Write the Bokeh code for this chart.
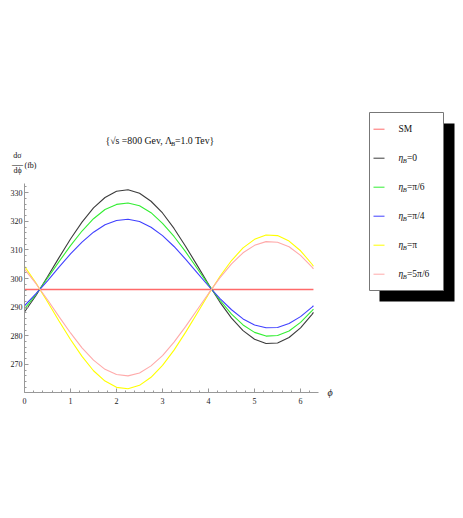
from bokeh.plotting import figure
from bokeh.models import Range1d, SingleIntervalTicker
from bokeh.embed import file_html
from bokeh.resources import INLINE
from bokeh.core.properties import value

# ---- data ----
phi = [0.0, 0.25, 0.5, 0.75, 1.0, 1.25, 1.5, 1.75, 2.0, 2.25, 2.5, 2.75, 3.0,
       3.25, 3.5, 3.75, 4.0, 4.25, 4.5, 4.75, 5.0, 5.25, 5.5, 5.75, 6.0, 6.25, 6.28]
sm_phi = [0.0, 6.28]
sm = [296.2, 296.2]
eta_0 = [288.3, 294.1, 300.6, 307.3, 313.8, 319.7, 324.7, 328.3, 330.5, 331.0, 329.8, 327.0, 322.9,
         317.5, 311.3, 304.7, 298.0, 291.7, 286.2, 281.8, 278.8, 277.3, 277.5, 279.4, 282.8, 287.5, 288.2]
eta_pi6 = [289.4, 294.5, 300.1, 305.9, 311.5, 316.6, 320.9, 324.1, 325.9, 326.4, 325.4, 323.0, 319.3,
           314.7, 309.4, 303.6, 297.8, 292.4, 287.6, 283.8, 281.2, 279.9, 280.1, 281.7, 284.7, 288.8, 289.3]
eta_pi4 = [290.5, 294.7, 299.2, 304.0, 308.6, 312.7, 316.2, 318.8, 320.3, 320.7, 319.9, 317.9, 315.0,
           311.2, 306.8, 302.1, 297.4, 293.0, 289.1, 285.9, 283.8, 282.8, 282.9, 284.3, 286.7, 290.0, 290.5]
eta_pi = [304.3, 298.4, 291.9, 285.2, 278.7, 272.8, 267.8, 264.2, 262.0, 261.5, 262.7, 265.5, 269.7,
          275.0, 281.2, 287.8, 294.5, 300.8, 306.3, 310.7, 313.7, 315.2, 315.0, 313.1, 309.7, 305.0, 304.3]
eta_5pi6 = [303.3, 298.2, 292.6, 286.7, 281.0, 275.8, 271.5, 268.3, 266.5, 266.0, 267.0, 269.5, 273.1,
            277.8, 283.2, 289.0, 294.8, 300.3, 305.1, 309.0, 311.6, 312.9, 312.7, 311.1, 308.1, 304.0, 303.4]

legend_suffix = ["", "=0", "=\u03c0/6", "=\u03c0/4", "=\u03c0", "=5\u03c0/6"]
colors = ["#ff6a6a", "#3c3c3c", "#33ee33", "#4040ff", "#ffff00", "#ffaaaa"]
x_axis_bounds = (0.0, 6.39)
y_axis_bounds = (260.2, 333.2)

SERIF = "Liberation Serif"

# ---- geometry (page pixels) ----
W, H = 458, 512
PAGE0 = 0
AX_X0_PX = 24      # page x of phi = 0
AX_X1_PX = 318     # page x of the axis end
AX_YB_PX = 392     # page y of the x axis
AX_YT_PX = 183     # page y of the top of the y axis
sx = (AX_X1_PX - AX_X0_PX) / (x_axis_bounds[1] - x_axis_bounds[0])
sy = (AX_YB_PX - AX_YT_PX) / (y_axis_bounds[1] - y_axis_bounds[0])

def dx(px):
    return x_axis_bounds[0] + (px - AX_X0_PX) / sx

def dy(py):
    return y_axis_bounds[0] + (AX_YB_PX - py) / sy

p = figure(width=W, height=H,
           x_range=Range1d(dx(PAGE0), dx(PAGE0 + W)),
           y_range=Range1d(dy(PAGE0 + H), dy(PAGE0)),
           output_backend="svg", toolbar_location=None, min_border=0)
p.outline_line_color = None
p.grid.visible = False
p.background_fill_color = "white"
p.border_fill_color = "white"

p.xaxis.ticker = SingleIntervalTicker(interval=1, num_minor_ticks=5)
p.yaxis.ticker = SingleIntervalTicker(interval=10, num_minor_ticks=5)
p.xaxis.fixed_location = y_axis_bounds[0]
p.yaxis.fixed_location = x_axis_bounds[0]
p.xaxis.bounds = x_axis_bounds
p.yaxis.bounds = y_axis_bounds
for ax in (p.xaxis[0], p.yaxis[0]):
    ax.axis_line_color = "#999999"
    ax.major_tick_line_color = "#999999"
    ax.minor_tick_line_color = "#999999"
    ax.major_tick_in = 4
    ax.major_tick_out = 0
    ax.minor_tick_in = 2
    ax.minor_tick_out = 0
    ax.major_label_text_font = SERIF
    ax.major_label_text_font_size = "8px"
    ax.major_label_text_color = "#222222"
p.yaxis.major_label_standoff = 2
p.xaxis.major_label_standoff = 5

p.line(sm_phi, sm, line_color=colors[0], line_width=1.6)
for ys, c in zip([eta_0, eta_pi6, eta_pi4, eta_pi, eta_5pi6], colors[1:]):
    p.line(phi, ys, line_color=c, line_width=1.1)

def txt(text, px, py, size, style="normal", align="left"):
    p.text(x=[dx(px)], y=[dy(py)], text=[text], text_font=value(SERIF), text_font_size=size,
           text_font_style=style, text_align=align, text_baseline="middle", text_color="#111111")

# title
txt("{\u221as =800 Gev, \u039b", 105, 140, "9.8px")
txt("B", 170.5, 143, "6.5px", "italic")
txt("=1.0 Tev}", 174.5, 140, "9.8px")
# y label
txt("d\u03c3", 17, 155, "8px", align="center")
txt("\u2014", 17, 163, "11px", align="center")
txt("d\u03d5", 17, 170, "8px", align="center")
txt("(fb)", 24, 165, "8px")
# x label
txt("\u03d5", 327, 392, "10px", "italic")

# ---- legend ----
p.quad(left=dx(379), right=dx(454), top=dy(123), bottom=dy(301), fill_color="black", line_color=None)
p.quad(left=dx(369), right=dx(443), top=dy(112), bottom=dy(290), fill_color="white",
       line_color="#777777", line_width=1)
for i, (c, suf) in enumerate(zip(colors, legend_suffix)):
    py = 128.7 + 29 * i
    p.segment(x0=[dx(373)], x1=[dx(384)], y0=[dy(py)], y1=[dy(py)], line_color=c, line_width=1)
    if i == 0:
        txt("SM", 398, py, "9.5px")
    else:
        txt("\u03b7", 398, py, "9.5px", "italic")
        txt("B", 402.3, py + 2, "6.5px", "italic")
        txt(suf, 406.5, py, "9.5px")

open("out.html", "w").write(file_html(p, INLINE))
